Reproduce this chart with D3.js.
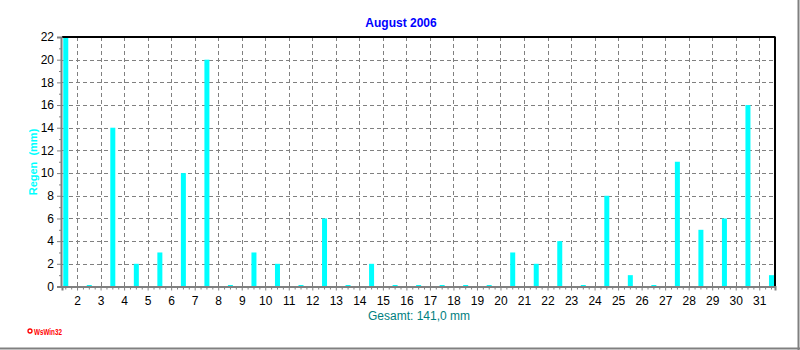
<!DOCTYPE html>
<html>
<head>
<meta charset="utf-8">
<script src="https://cdn.jsdelivr.net/npm/d3@7"></script>
<style>
  html, body { margin: 0; padding: 0; background: #fff; }
  svg { display: block; }
  text { font-family: "Liberation Sans", Arial, sans-serif; }
</style>
</head>
<body>
<svg id="chart" width="800" height="350"></svg>
<script>
// Daily rainfall, August 2006 (mm)
const days = d3.range(1, 32);
const rain = [22, 0, 14, 2, 3, 10, 20, 0, 3, 2, 0, 6, 0, 2, 0, 0, 0, 0, 0, 3,
              2, 4, 0, 8, 1, 0, 11, 5, 6, 16, 1];
const dayLabels = d3.range(2, 32);
const yTicks = d3.range(0, 23, 2);
const title = "August 2006";
const yTitle = "Regen  (mm)";
const totalLabel = "Gesamt: " + d3.format(".1f")(d3.sum(rain)).replace(".", ",") + " mm";

const svg = d3.select("#chart");
const plotLeft = 62, plotRight = 775, plotTop = 37, plotBottom = 286.5;

const x = d3.scaleLinear().domain([1.36, 31.67]).range([plotLeft, plotRight]);
const y = d3.scaleLinear().domain([0, 22]).range([plotBottom, plotTop]);

// window frame (right and bottom edges)
svg.append("line").attr("x1", 798.5).attr("x2", 798.5).attr("y1", 0).attr("y2", 350)
  .attr("stroke", "#808080").attr("stroke-width", 2);
svg.append("line").attr("x1", 0).attr("x2", 800).attr("y1", 348.5).attr("y2", 348.5)
  .attr("stroke", "#808080").attr("stroke-width", 2);

// grid
const grid = svg.append("g").attr("stroke", "#808080").attr("stroke-width", 1)
  .attr("stroke-dasharray", "4,3");
grid.selectAll("line.v").data(dayLabels).join("line").attr("class", "v")
  .attr("x1", d => Math.round(x(d)) + 0.5).attr("x2", d => Math.round(x(d)) + 0.5)
  .attr("y1", plotTop).attr("y2", plotBottom);
grid.selectAll("line.h").data(yTicks.filter(t => t > 0 && t < 22)).join("line").attr("class", "h")
  .attr("x1", plotLeft).attr("x2", plotRight)
  .attr("y1", d => Math.round(y(d)) + 0.5).attr("y2", d => Math.round(y(d)) + 0.5);

// bars (zero days still show a thin stub)
svg.append("g").selectAll("rect").data(days).join("rect")
  .attr("x", d => x(d + 0.52) - 2.5)
  .attr("width", 5)
  .attr("y", (d, i) => Math.min(y(rain[i]), plotBottom - 1.5))
  .attr("height", (d, i) => Math.max(plotBottom - y(rain[i]), 1.5))
  .attr("fill", "#00FFFF");

// frame: top/right black, left/bottom grey axes
svg.append("line").attr("x1", plotLeft).attr("x2", plotRight + 0.5).attr("y1", plotTop).attr("y2", plotTop)
  .attr("stroke", "#000").attr("stroke-width", 2);
svg.append("line").attr("x1", plotRight).attr("x2", plotRight).attr("y1", plotTop).attr("y2", plotBottom)
  .attr("stroke", "#000").attr("stroke-width", 2);

// y axis
const yAxis = d3.axisLeft(y).tickValues(yTicks).tickSize(4).tickPadding(3).tickFormat(d3.format("d"));
const gy = svg.append("g").attr("transform", `translate(${plotLeft - 1},0)`).call(yAxis);
gy.select(".domain").attr("stroke", "#808080").attr("stroke-width", 2);
gy.selectAll(".tick line").attr("stroke", "#808080");
gy.selectAll(".tick text").attr("font-size", 12).attr("fill", "#000")
  .attr("font-family", "Liberation Sans, Arial, sans-serif");
const yMinor = d3.axisLeft(y).tickValues(d3.range(1, 22, 2)).tickSize(2).tickFormat("");
const gym = svg.append("g").attr("transform", `translate(${plotLeft - 1},0)`).call(yMinor);
gym.select(".domain").remove();
gym.selectAll(".tick line").attr("stroke", "#808080");

// x axis
const xAxis = d3.axisBottom(x).tickValues(dayLabels).tickSize(4).tickPadding(6).tickFormat(d3.format("d"));
const gx = svg.append("g").attr("transform", `translate(0,${plotBottom})`).call(xAxis);
gx.select(".domain").attr("stroke", "#808080").attr("stroke-width", 2);
gx.selectAll(".tick line").attr("stroke", "#808080");
gx.selectAll(".tick text").attr("font-size", 12).attr("fill", "#000")
  .attr("font-family", "Liberation Sans, Arial, sans-serif");
const quarterTicks = d3.range(1.5, 31.7, 0.25).filter(v => v >= 1.36 && v <= 31.67 && v % 1 !== 0);
const xMinor = d3.axisBottom(x).tickValues(quarterTicks).tickSize(3).tickFormat("");
const gxm = svg.append("g").attr("transform", `translate(0,${plotBottom})`).call(xMinor);
gxm.select(".domain").remove();
gxm.selectAll(".tick line").attr("stroke", "#808080");

// texts
svg.append("text").attr("x", 401).attr("y", 27).attr("text-anchor", "middle")
  .attr("font-size", 12).attr("font-weight", "bold").attr("fill", "#0000FF").text(title);
svg.append("text").attr("transform", "translate(37,162) rotate(-90)").attr("text-anchor", "middle")
  .attr("font-size", 11).attr("font-weight", "bold").attr("fill", "#00FFFF")
  .style("white-space", "pre").text(yTitle);
svg.append("text").attr("x", 419).attr("y", 320).attr("text-anchor", "middle")
  .attr("font-size", 12).attr("fill", "#008080").text(totalLabel);

// WsWin32 badge
svg.append("circle").attr("cx", 30).attr("cy", 331).attr("r", 2).attr("fill", "none")
  .attr("stroke", "#FF0000").attr("stroke-width", 1.3);
svg.append("text").attr("x", 34).attr("y", 334.5).attr("font-size", 9).attr("font-weight", "bold")
  .attr("fill", "#FF0000").attr("textLength", 28).attr("lengthAdjust", "spacingAndGlyphs")
  .text("WsWin32");
</script>
</body>
</html>
